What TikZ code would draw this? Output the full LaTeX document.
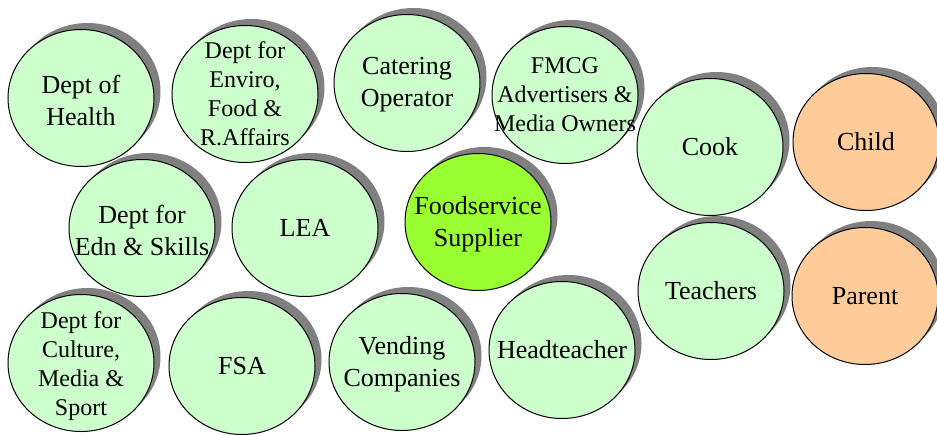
\documentclass[tikz,border=0pt]{standalone}
\usepackage{fontspec}
\setmainfont{Liberation Serif}
\usetikzlibrary{shapes.geometric, shadows}

\definecolor{paleGreen}{HTML}{CCFFCC}
\definecolor{limeGreen}{HTML}{99FF33}
\definecolor{peach}{HTML}{FFCC99}

\tikzset{
    bubble/.style={ellipse, draw=black, line width=1pt, fill=paleGreen,
        minimum width=146pt, minimum height=137pt, inner sep=0pt,
        drop shadow={shadow xshift=6.5pt, shadow yshift=6.5pt, opacity=1, fill=black!50}},
    bigtext/.style={align=center, inner sep=0pt, font=\fontsize{26}{32}\selectfont},
    smalltext/.style={align=center, inner sep=0pt, font=\fontsize{24}{29}\selectfont}
}

\begin{document}
\begin{tikzpicture}[x=1pt, y=-1pt]
        \useasboundingbox (0,0) rectangle (937,434);

        % top row
        \node[bubble] (health) at (81,98) {};
        \node[bubble] (enviro) at (245,94) {};
        \node[bubble] (catering) at (407,83) {};
        \node[bubble] (fmcg) at (565,95) {};
        \node[bubble] (cook) at (710,147) {};
        \node[bubble, fill=peach] (child) at (866,142) {};

        % middle row
        \node[bubble] (edn) at (142,228) {};
        \node[bubble] (lea) at (305,228) {};
        \node[bubble, fill=limeGreen] (supplier) at (478,222) {};

        % bottom row
        \node[bubble] (culture) at (81,363) {};
        \node[bubble] (fsa) at (242,366) {};
        \node[bubble] (vending) at (402,362) {};
        \node[bubble] (head) at (562,350) {};
        \node[bubble] (teachers) at (711,291) {};
        \node[bubble, fill=peach] (parent) at (865,296) {};

        % labels
        \node[bigtext] (health-t) at ([yshift=-2pt]health) {Dept of\\Health};
        \node[smalltext] (enviro-t) at (enviro) {Dept for\\Enviro,\\Food \&\\R.Affairs};
        \node[bigtext] (catering-t) at ([yshift=-2pt]catering) {Catering\\Operator};
        \node[smalltext] (fmcg-t) at (fmcg) {FMCG\\Advertisers \&\\Media Owners};
        \node[bigtext] (cook-t) at (cook) {Cook};
        \node[bigtext] (child-t) at (child) {Child};
        \node[bigtext] (edn-t) at ([yshift=-2pt]edn) {Dept for\\Edn \& Skills};
        \node[bigtext] (lea-t) at (lea) {LEA};
        \node[bigtext] (supplier-t) at ([yshift=-2pt]supplier) {Foodservice\\Supplier};
        \node[smalltext] (culture-t) at ([yshift=-3pt]culture) {Dept for\\Culture,\\Media \&\\Sport};
        \node[bigtext] (fsa-t) at (fsa) {FSA};
        \node[bigtext] (vending-t) at ([yshift=-2pt]vending) {Vending\\Companies};
        \node[bigtext] (head-t) at (head) {Headteacher};
        \node[bigtext] (teachers-t) at (teachers) {Teachers};
        \node[bigtext] (parent-t) at (parent) {Parent};
\end{tikzpicture}
\end{document}
